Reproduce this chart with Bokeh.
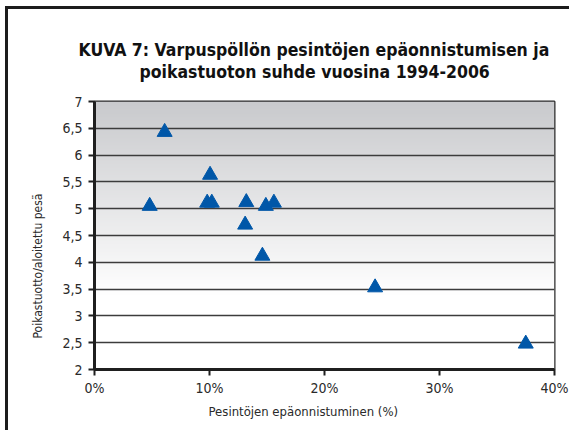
import numpy as np
from bokeh.plotting import figure
from bokeh.models import (Range1d, SingleIntervalTicker, PrintfTickFormatter,
                          CustomJSTickFormatter, Title)
from bokeh.embed import file_html
from bokeh.resources import INLINE

# ---- data ----
failure_pct = [4.8, 6.1, 10.05, 9.8, 10.2, 13.2, 13.1, 14.9, 15.6, 14.6, 24.4, 37.5]
young_per_nest = [5.05, 6.43, 5.63, 5.11, 5.11, 5.12, 4.70, 5.05, 5.11, 4.12, 3.53, 2.48]

title_lines = ["KUVA 7: Varpuspöllön pesintöjen epäonnistumisen ja",
               "poikastuoton suhde vuosina 1994-2006"]
x_label = "Pesintöjen epäonnistuminen (%)"
y_label = "Poikastuotto/aloitettu pesä"

FONT = "DejaVu Sans Condensed"
X0, X1, Y0, Y1 = 0, 40, 2, 7

p = figure(width=564, height=424, output_backend="svg", toolbar_location=None,
           title=None,
           x_range=Range1d(X0, X1), y_range=Range1d(Y0, Y1),
           min_border_left=86, min_border_right=18, min_border_top=92,
           min_border_bottom=64, background_fill_color="white",
           border_fill_color="white")
p.styles = {"border-left": "3px solid #1c1c1c", "border-top": "3px solid #1c1c1c",
            "margin-left": "5px", "margin-top": "6px"}

# gradient background of plot area
n = 256
ys = np.linspace(Y0, Y1, n)
t = np.clip((ys - 3.4) / (Y1 - 3.4), 0, 1)
top = np.array([201, 202, 205])
rgb = (255 - (255 - top)[None, :] * t[:, None]).astype(np.uint32)
col = (255 << 24) | (rgb[:, 2] << 16) | (rgb[:, 1] << 8) | rgb[:, 0]
img = np.repeat(col[:, None], 2, axis=1).astype(np.uint32)
p.image_rgba(image=[img], x=X0, y=Y0, dw=X1 - X0, dh=Y1 - Y0, level="image")

p.scatter(failure_pct, young_per_nest, marker="triangle", size=15,
          fill_color="#0057a8", line_color="#0057a8")

# axes
p.xaxis.ticker = SingleIntervalTicker(interval=10)
p.yaxis.ticker = SingleIntervalTicker(interval=0.5)
p.xaxis.formatter = PrintfTickFormatter(format="%d%%")
p.yaxis.formatter = CustomJSTickFormatter(code="return String(Math.round(tick*10)/10).replace('.', ',');")
for ax in (p.xaxis, p.yaxis):
    ax.axis_line_color = "#1f1f1f"
    ax.axis_line_width = 3
    ax.major_tick_line_color = "#1f1f1f"
    ax.major_tick_line_width = 2
    ax.major_tick_out = 6
    ax.major_tick_in = 0
    ax.minor_tick_line_color = None
    ax.major_label_text_font = FONT
    ax.major_label_text_font_size = "14px"
    ax.major_label_text_color = "#2a2a2a"
p.yaxis.major_label_standoff = 6
p.xaxis.major_label_standoff = 4

p.xgrid.grid_line_color = None
p.ygrid.grid_line_color = "#3c3c3c"
p.ygrid.grid_line_width = 1.5

p.outline_line_color = "#2a2a2a"
p.outline_line_width = 2
p.outline_line_alpha = 1

# titles: spacer closest to the frame, then line 2, then line 1
p.add_layout(Title(text=" ", standoff=17, text_font_size="1px"), "above")
p.add_layout(Title(text=title_lines[1], align="left", offset=45, standoff=0,
                   text_font=FONT, text_font_size="17.5px", text_font_style="bold",
                   text_color="#111111"), "above")
p.add_layout(Title(text=title_lines[0], align="left", offset=-16, standoff=0,
                   text_font=FONT, text_font_size="17.5px", text_font_style="bold",
                   text_color="#111111"), "above")
p.add_layout(Title(text=x_label, align="left", offset=114, standoff=6,
                   text_font=FONT, text_font_size="13px", text_font_style="normal",
                   text_color="#2a2a2a"), "below")
p.add_layout(Title(text=y_label, align="left", offset=31, standoff=30,
                   text_font=FONT, text_font_size="12px", text_font_style="normal",
                   text_color="#2a2a2a"), "left")

open("out.html", "w").write(file_html(p, INLINE))
